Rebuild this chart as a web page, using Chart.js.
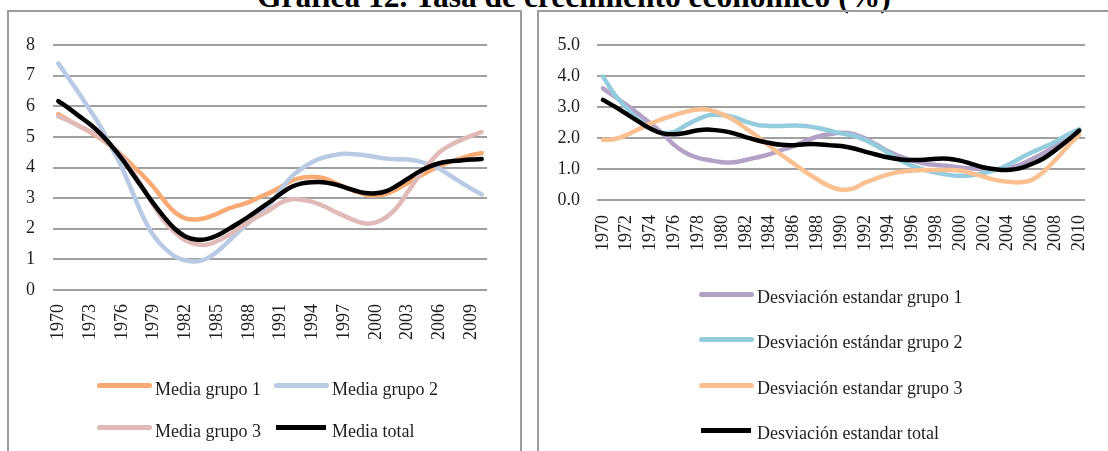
<!DOCTYPE html>
<html lang="es">
<head>
<meta charset="utf-8">
<title>Gráfica 12</title>
<script src="https://cdn.jsdelivr.net/npm/chart.js@4.4.1/dist/chart.umd.min.js"></script>
<style>
  body { margin: 0; width: 1108px; height: 451px; overflow: hidden; background: #fff; font-family: 'Liberation Serif', 'Times New Roman', serif; position: relative; }
  #title { position: absolute; left: 257px; top: -19px; font-size: 31.5px; line-height: 31.5px; font-weight: bold; white-space: nowrap; color: #000; }
  .panel { position: absolute; border: 2px solid #9c9c9c; box-sizing: border-box; }
  canvas { position: absolute; }
  .key { position: absolute; height: 5px; border-radius: 2.5px; }
  .key.square { border-radius: 0; }
  .ltext { position: absolute; font-size: 18px; line-height: 18px; white-space: nowrap; color: #1e1e1e; }
</style>
</head>
<body>
<div id="title">Gráfica 12. Tasa de crecimiento económico (%)</div>
<div class="panel" style="left:7px; top:10px; width:515px; height:470px;"></div>
<div class="panel" style="left:537px; top:10px; width:600px; height:470px;"></div>
<canvas id="mediaChart" width="511" height="439" style="left:9px; top:12px;"></canvas>
<canvas id="desvChart" width="569" height="439" style="left:539px; top:12px;"></canvas>
<div id="mediaLegend"></div>
<div id="desvLegend"></div>

<script>
// categories
const years = ['1970', '1971', '1972', '1973', '1974', '1975', '1976', '1977', '1978', '1979',
  '1980', '1981', '1982', '1983', '1984', '1985', '1986', '1987', '1988', '1989',
  '1990', '1991', '1992', '1993', '1994', '1995', '1996', '1997', '1998', '1999',
  '2000', '2001', '2002', '2003', '2004', '2005', '2006', '2007', '2008', '2009', '2010'];

// left panel: medias
const mediaLabels = ['Media grupo 1', 'Media grupo 2', 'Media grupo 3', 'Media total'];
const mediaGrupo1 = [5.74, 5.54, 5.35, 5.16, 4.94, 4.69, 4.40, 4.07, 3.74, 3.36,
  2.92, 2.54, 2.34, 2.30, 2.36, 2.49, 2.65, 2.76, 2.87, 3.03,
  3.18, 3.36, 3.56, 3.67, 3.69, 3.66, 3.52, 3.37, 3.23, 3.12,
  3.09, 3.14, 3.30, 3.49, 3.69, 3.88, 4.04, 4.18, 4.29, 4.40, 4.47];
const mediaGrupo2 = [7.40, 6.90, 6.40, 5.87, 5.33, 4.67, 4.00, 3.20, 2.40, 1.78,
  1.38, 1.10, 0.97, 0.93, 1.02, 1.25, 1.56, 1.89, 2.20, 2.52,
  2.80, 3.27, 3.69, 3.96, 4.18, 4.32, 4.40, 4.45, 4.43, 4.40,
  4.34, 4.29, 4.27, 4.26, 4.21, 4.10, 3.96, 3.74, 3.52, 3.31, 3.12];
const mediaGrupo3 = [5.67, 5.52, 5.35, 5.18, 4.97, 4.70, 4.36, 3.88, 3.32, 2.76,
  2.25, 1.88, 1.62, 1.50, 1.48, 1.60, 1.78, 2.00, 2.22, 2.43,
  2.62, 2.85, 2.96, 2.95, 2.88, 2.75, 2.58, 2.42, 2.27, 2.17,
  2.21, 2.38, 2.70, 3.20, 3.69, 4.12, 4.50, 4.72, 4.89, 5.03, 5.16];
const mediaTotal = [6.17, 5.93, 5.67, 5.41, 5.10, 4.72, 4.29, 3.80, 3.31, 2.82,
  2.38, 2.00, 1.75, 1.65, 1.66, 1.78, 1.97, 2.18, 2.40, 2.64,
  2.88, 3.14, 3.36, 3.48, 3.52, 3.52, 3.46, 3.36, 3.25, 3.17,
  3.16, 3.23, 3.41, 3.63, 3.85, 4.02, 4.14, 4.20, 4.23, 4.26, 4.28];
const mediaYTicks = [0, 1, 2, 3, 4, 5, 6, 7, 8];

// right panel: desviaciones
const desvLabels = ['Desviación estandar grupo 1', 'Desviación estándar grupo 2',
  'Desviación estandar grupo 3', 'Desviación estandar total'];
const desvGrupo1 = [3.60, 3.33, 3.06, 2.77, 2.47, 2.15, 1.77, 1.51, 1.36, 1.28,
  1.22, 1.22, 1.29, 1.38, 1.48, 1.61, 1.74, 1.90, 2.04, 2.12,
  2.17, 2.13, 1.99, 1.78, 1.56, 1.40, 1.27, 1.18, 1.13, 1.10,
  1.05, 1.02, 1.00, 0.99, 1.02, 1.13, 1.31, 1.51, 1.74, 1.99, 2.24];
const desvGrupo2 = [3.98, 3.39, 2.96, 2.58, 2.31, 2.17, 2.20, 2.42, 2.61, 2.74,
  2.74, 2.67, 2.53, 2.42, 2.39, 2.39, 2.40, 2.39, 2.33, 2.24,
  2.15, 2.08, 1.94, 1.74, 1.51, 1.27, 1.10, 0.97, 0.88, 0.81,
  0.78, 0.80, 0.88, 0.97, 1.13, 1.34, 1.53, 1.70, 1.88, 2.10, 2.28];
const desvGrupo3 = [1.94, 1.97, 2.10, 2.28, 2.47, 2.61, 2.74, 2.85, 2.92, 2.90,
  2.77, 2.58, 2.31, 2.04, 1.74, 1.45, 1.18, 0.91, 0.67, 0.45,
  0.33, 0.37, 0.56, 0.70, 0.83, 0.91, 0.95, 0.97, 0.97, 0.97,
  0.95, 0.86, 0.75, 0.64, 0.59, 0.57, 0.64, 0.91, 1.29, 1.72, 2.10];
const desvTotal = [3.23, 3.01, 2.77, 2.53, 2.30, 2.15, 2.12, 2.17, 2.25, 2.27,
  2.23, 2.15, 2.03, 1.92, 1.84, 1.78, 1.77, 1.80, 1.80, 1.77,
  1.74, 1.67, 1.56, 1.46, 1.37, 1.31, 1.29, 1.30, 1.33, 1.33,
  1.27, 1.16, 1.05, 0.99, 0.97, 1.02, 1.16, 1.34, 1.61, 1.91, 2.24];
const desvYTicks = [0, 1, 2, 3, 4, 5];

const mediaColors = ['#f9aa72', '#b9cbe4', '#dfbab8', '#000000'];
const desvColors = ['#b3a2c7', '#93cddd', '#fac090', '#000000'];

const serif = "'Liberation Serif', 'Times New Roman', serif";
const textColor = '#1e1e1e';

function makeDatasets(labels, series, colors) {
  return series.map((data, k) => ({
    label: labels[k],
    data: data,
    borderColor: colors[k],
    backgroundColor: colors[k],
    borderWidth: 4.5,
    pointRadius: 0,
    tension: 0.4,
    borderCapStyle: 'round',
    borderJoinStyle: 'round',
    fill: false,
    order: series.length - k   // later series drawn on top, as in Excel
  }));
}

function makeOptions(yTicks, opts) {
  return {
    responsive: false,
    animation: false,
    events: [],
    layout: { padding: opts.padding },
    plugins: { legend: { display: false }, tooltip: { enabled: false }, title: { display: false } },
    scales: {
      x: {
        offset: true,
        grid: { display: false },
        border: { display: false },
        ticks: {
          autoSkip: false,
          minRotation: 90,
          maxRotation: 90,
          padding: opts.xPad,
          color: textColor,
          font: { family: serif, size: 18 },
          callback: function (value, index) {
            return index % opts.every === 0 ? this.getLabelForValue(value) : '';
          }
        },
        afterFit: scale => { scale.height = opts.xHeight; }
      },
      y: {
        min: yTicks[0],
        max: yTicks[yTicks.length - 1],
        grid: { color: '#a0a0a0', lineWidth: 2, drawTicks: false },
        border: { display: false },
        ticks: {
          stepSize: yTicks[1] - yTicks[0],
          padding: opts.yPad,
          color: textColor,
          font: { family: serif, size: 18 },
          callback: v => opts.decimals ? v.toFixed(opts.decimals) : v
        },
        afterFit: scale => { scale.width = opts.yWidth; }
      }
    }
  };
}

const mediaChart = new Chart(document.getElementById('mediaChart'), {
  type: 'line',
  data: {
    labels: years,
    datasets: makeDatasets(mediaLabels, [mediaGrupo1, mediaGrupo2, mediaGrupo3, mediaTotal], mediaColors)
  },
  options: makeOptions(mediaYTicks, {
    padding: { left: 0, right: 33, top: 33, bottom: 101 },
    yWidth: 44, yPad: 18, xPad: 6, xHeight: 60, every: 3, decimals: 0
  })
});

const desvChart = new Chart(document.getElementById('desvChart'), {
  type: 'line',
  data: {
    labels: years,
    datasets: makeDatasets(desvLabels, [desvGrupo1, desvGrupo2, desvGrupo3, desvTotal], desvColors)
  },
  options: makeOptions(desvYTicks, {
    padding: { left: 0, right: 20, top: 33, bottom: 191 },
    yWidth: 58, yPad: 17, xPad: 7, xHeight: 60, every: 2, decimals: 1
  })
});

// legends in the Excel layout, built from the datasets
function buildLegend(chart, holder, slots) {
  const box = document.getElementById(holder);
  chart.data.datasets.forEach((ds, k) => {
    const s = slots[k];
    const black = ds.borderColor === '#000000';
    const key = document.createElement('div');
    key.className = 'key' + (black ? ' square' : '');
    key.style.background = ds.borderColor;
    key.style.left = (black ? s.x + 2 : s.x) + 'px';
    key.style.width = (black ? 50 : 55) + 'px';
    key.style.top = (s.base - 9 - 2.5) + 'px';
    const txt = document.createElement('div');
    txt.className = 'ltext';
    txt.textContent = ds.label;
    txt.style.left = (s.x + 58) + 'px';
    txt.style.top = (s.base - 15.1) + 'px';
    box.append(key, txt);
  });
}

buildLegend(mediaChart, 'mediaLegend', [
  { x: 97, base: 394.7 }, { x: 274, base: 394.7 },
  { x: 97, base: 436.7 }, { x: 274, base: 436.7 }
]);
buildLegend(desvChart, 'desvLegend', [
  { x: 699, base: 303 }, { x: 699, base: 348.5 },
  { x: 699, base: 394 }, { x: 699, base: 439.5 }
]);
</script>
</body>
</html>
